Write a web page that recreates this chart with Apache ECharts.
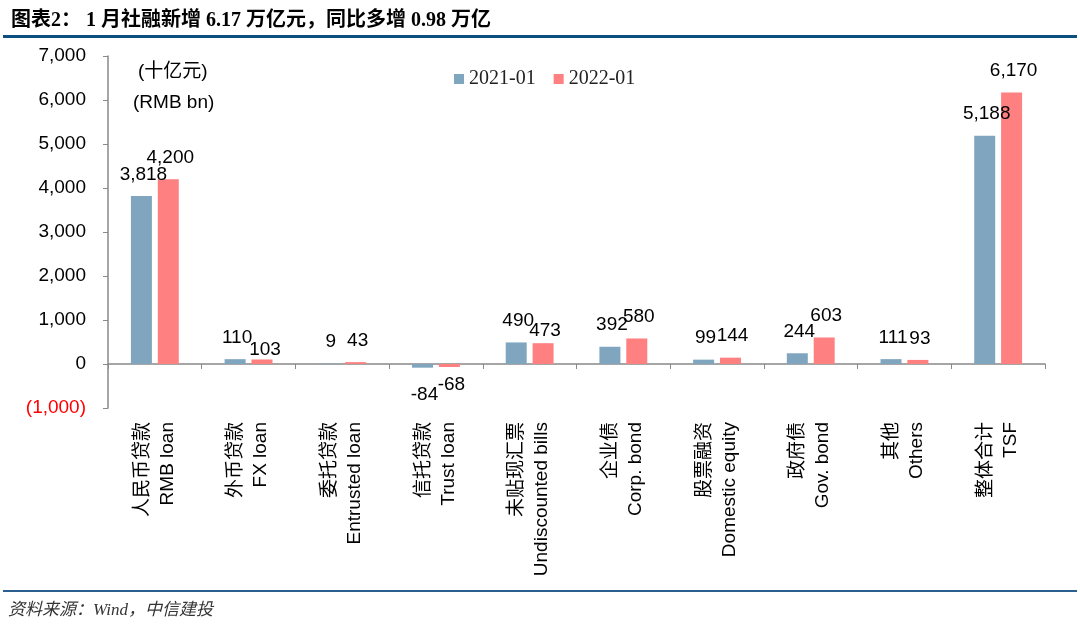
<!DOCTYPE html>
<html>
<head>
<meta charset="utf-8">
<script src="https://cdn.jsdelivr.net/npm/echarts@6/dist/echarts.min.js"></script>
<style>
html,body{margin:0;padding:0;background:#fff;}
#chart{width:1080px;height:632px;}
</style>
</head>
<body>
<div id="chart"></div>
<script>
const categories = [
  "人民币贷款\nRMB loan",
  "外币贷款\nFX loan",
  "委托贷款\nEntrusted loan",
  "信托贷款\nTrust loan",
  "未贴现汇票\nUndiscounted bills",
  "企业债\nCorp. bond",
  "股票融资\nDomestic equity",
  "政府债\nGov. bond",
  "其他\nOthers",
  "整体合计\nTSF"
];
const seriesNames = ["2021-01", "2022-01"];
const values2021 = [3818, 110, 9, -84, 490, 392, 99, 244, 111, 5188];
const values2022 = [4200, 103, 43, -68, 473, 580, 144, 603, 93, 6170];
const yTicks = { min: -1000, max: 7000, interval: 1000 };

const fmt = v => v.toLocaleString('en-US');

// label position tweaks (style only)
const labelTweaks2021 = { 3: { distance: 18 } };
const labelTweaks2022 = { 1: { offset: [3, 12] }, 4: { offset: [2, 9] }, 3: { distance: 8 } };

function buildData(vals, tweaks) {
  return vals.map((v, i) => {
    const item = { value: v };
    const t = tweaks[i] || {};
    const lbl = {};
    if (v < 0) lbl.position = 'bottom';
    if (t.offset) lbl.offset = t.offset;
    if (t.distance !== undefined) lbl.distance = t.distance;
    if (Object.keys(lbl).length) item.label = lbl;
    return item;
  });
}

const chart = echarts.init(document.getElementById('chart'), null, { renderer: 'canvas' });
const labelFont = 'Liberation Sans, Arial, sans-serif';

const option = {
  animation: false,
  backgroundColor: '#fff',
  title: {
    text: '图表2： 1 月社融新增 6.17 万亿元，同比多增 0.98 万亿',
    left: 6, top: 6,
    textStyle: { fontFamily: 'Liberation Serif, Noto Sans CJK SC, serif', fontWeight: 'bold', fontSize: 20, color: '#000' }
  },
  legend: {
    data: seriesNames,
    left: 449, top: 64,
    itemWidth: 10, itemHeight: 10, itemGap: 18,
    icon: 'rect',
    textStyle: { fontFamily: 'Liberation Serif, serif', fontSize: 20, color: '#222' }
  },
  graphic: [
    { type: 'rect', shape: { x: 3, y: 35, width: 1074, height: 3 }, style: { fill: '#0B4F80' } },
    { type: 'rect', shape: { x: 3, y: 590, width: 1074, height: 2 }, style: { fill: '#2A5F8F' } },
    { type: 'text', left: 8, top: 602, style: { text: '资料来源：Wind，中信建投', font: 'italic 17px "Liberation Serif", "Noto Sans CJK SC", serif', fill: '#333' } },
    { type: 'text', left: 138, top: 62, style: { text: '(十亿元)', font: '19px "Liberation Sans", "Noto Sans CJK SC", sans-serif', fill: '#000' } },
    { type: 'text', left: 133, top: 93, style: { text: '(RMB bn)', font: '19px "Liberation Sans", "Noto Sans CJK SC", sans-serif', fill: '#000' } }
  ],
  grid: { left: 108, right: 35, top: 56, bottom: 224, containLabel: false },
  xAxis: {
    type: 'category',
    data: categories,
    axisLine: { onZero: true, lineStyle: { color: '#898989', width: 1.5 } },
    axisTick: { show: true, alignWithLabel: false, length: 5, lineStyle: { color: '#898989' } },
    axisLabel: {
      interval: 0, rotate: 90, margin: 14,
      padding: [10, 0, 0, 0],
      fontFamily: 'Liberation Sans, Noto Sans CJK SC, sans-serif',
      fontSize: 19, lineHeight: 25, color: '#000'
    },
    splitLine: { show: false }
  },
  yAxis: {
    type: 'value',
    min: yTicks.min, max: yTicks.max, interval: yTicks.interval,
    axisLine: { show: true, lineStyle: { color: '#898989', width: 1.5 } },
    axisTick: { show: true, length: 5, lineStyle: { color: '#898989' } },
    splitLine: { show: false },
    axisLabel: {
      margin: 22,
      fontFamily: labelFont, fontSize: 19, color: '#000',
      formatter: v => v < 0 ? '{neg|(' + fmt(-v) + ')}' : fmt(v),
      rich: { neg: { color: '#FF0000', fontFamily: labelFont, fontSize: 19 } }
    }
  },
  series: [
    {
      name: seriesNames[0], type: 'bar',
      data: buildData(values2021, labelTweaks2021),
      barWidth: 21, barGap: '28%',
      itemStyle: { color: '#80A6BF' },
      label: { show: true, position: 'top', distance: 12, offset: [2, 0], fontFamily: labelFont, fontSize: 19, color: '#000', formatter: p => fmt(p.value) }
    },
    {
      name: seriesNames[1], type: 'bar',
      data: buildData(values2022, labelTweaks2022),
      barWidth: 21,
      itemStyle: { color: '#FF8080' },
      label: { show: true, position: 'top', distance: 12, offset: [2, 0], fontFamily: labelFont, fontSize: 19, color: '#000', formatter: p => fmt(p.value) }
    }
  ]
};
chart.setOption(option);
</script>
</body>
</html>
